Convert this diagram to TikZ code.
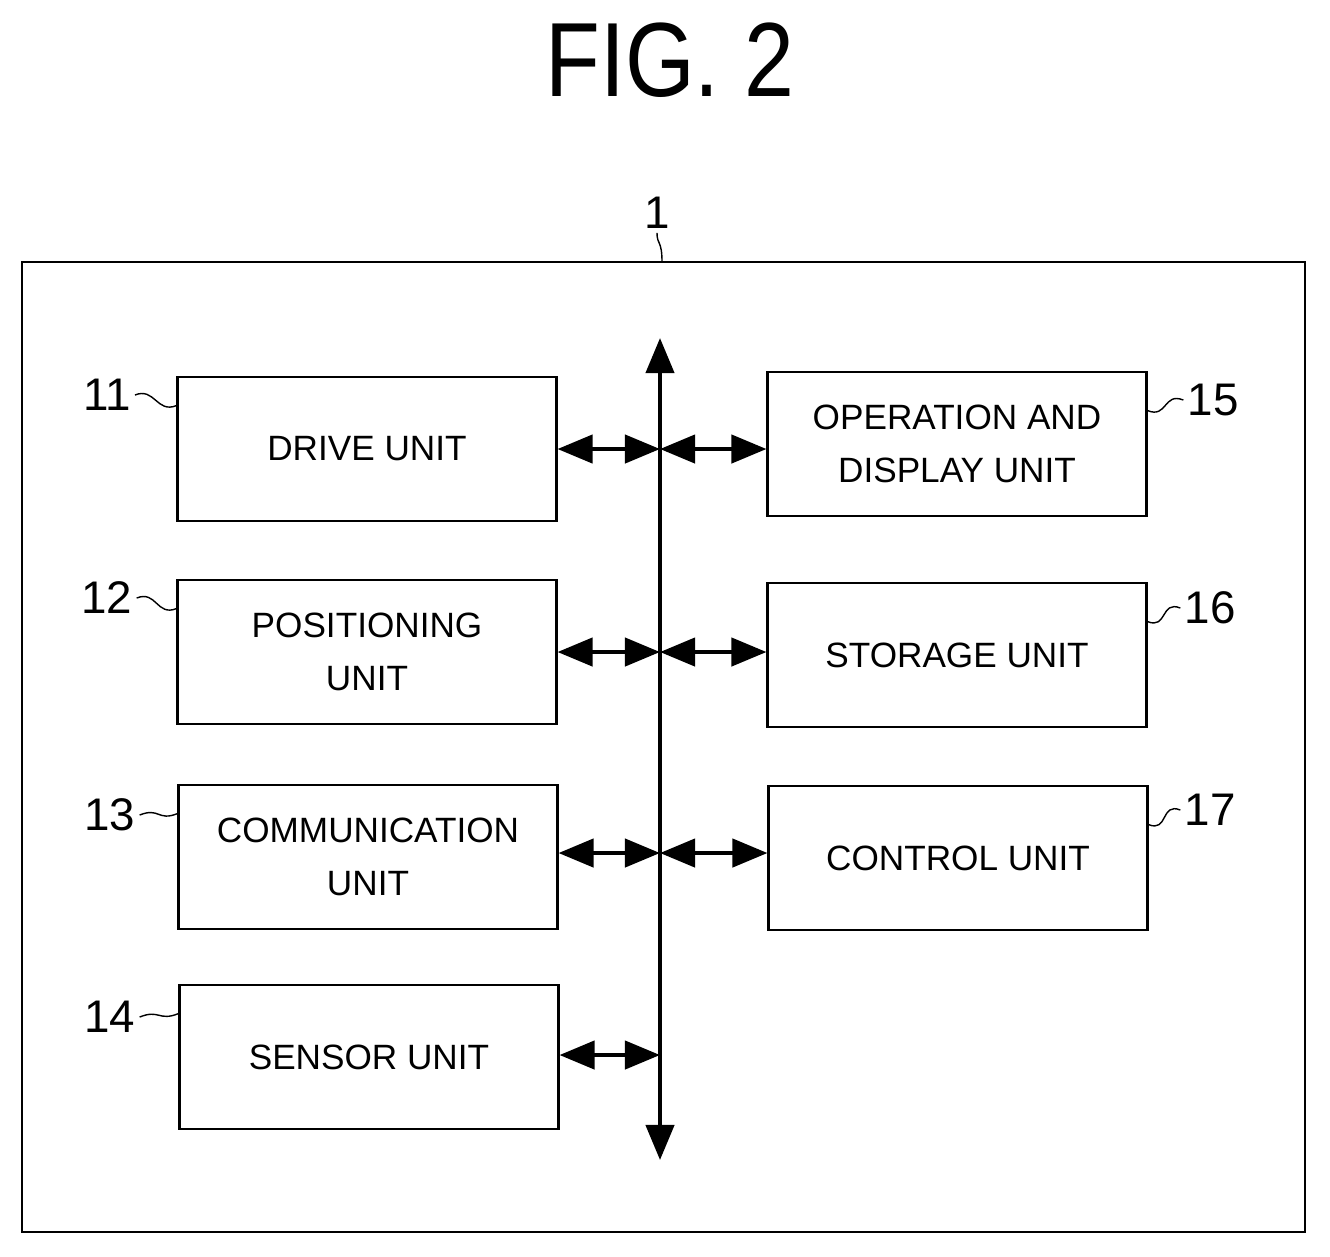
\documentclass[tikz,border=0pt]{standalone}
\usepackage{fontspec}
\setmainfont{Liberation Sans}
\usetikzlibrary{arrows.meta,positioning}
\tikzset{>={Triangle[length=10pt,width=8pt]}}
\tikzset{unit/.style={draw,thick,minimum width=3.78cm,minimum height=1.44cm,align=center,font=\fontsize{10}{12}\selectfont,inner sep=0pt},
  refno/.style={font=\fontsize{13}{15}\selectfont,inner sep=1pt}}

\begin{document}
\begin{tikzpicture}[x=0.01cm,y=-0.01cm]
\useasboundingbox (0,0) rectangle (1330,1256);
\node[font=\fontsize{30}{34}\selectfont,xscale=0.85] (title) at (670,60) {FIG. 2};
\draw[thick] (22,262) rectangle (1305,1232);
\node[refno] (r1) at (657,213) {1};
\draw (r1.south) .. controls (657,245) and (662,240) .. (662,262);
% bus
\coordinate (top) at (660,338);
\coordinate (bot) at (660,1160);
\draw[<->,very thick] (top) -- (bot);
% units
\node[unit] (drive) at (367,449) {DRIVE UNIT};
\node[unit] (pos) at (367,652) {POSITIONING\\[3pt]UNIT};
\node[unit] (comm) at (368,857) {COMMUNICATION\\[3pt]UNIT};
\node[unit] (sens) at (369,1057) {SENSOR UNIT};
\node[unit] (opd) at (957,444) {OPERATION AND\\[3pt]DISPLAY UNIT};
\node[unit] (stor) at (957,655) {STORAGE UNIT};
\node[unit] (ctrl) at (958,858) {CONTROL UNIT};
% links
\coordinate (b1) at (660,449);
\coordinate (b2) at (660,652);
\coordinate (b3) at (660,853);
\coordinate (b4) at (660,1055);
\draw[<->,very thick] (drive.east |- b1) -- (b1);
\draw[<->,very thick] (b1) -- (opd.west |- b1);
\draw[<->,very thick] (pos.east |- b2) -- (b2);
\draw[<->,very thick] (b2) -- (stor.west |- b2);
\draw[<->,very thick] (comm.east |- b3) -- (b3);
\draw[<->,very thick] (b3) -- (ctrl.west |- b3);
\draw[<->,very thick] (sens.east |- b4) -- (b4);
% reference numbers
\node[refno] (n11) at (107,395) {11};
\node[refno] (n12) at (107,598) {12};
\node[refno] (n13) at (110,815) {13};
\node[refno] (n14) at (110,1017) {14};
\node[refno] (n15) at (1213,400) {15};
\node[refno] (n16) at (1210,608) {16};
\node[refno] (n17) at (1210,810) {17};
\foreach \n/\b in {11/drive,12/pos,13/comm,14/sens}
  \draw (n\n.east) .. controls +(20,-8) and +(-20,8) .. ([yshift=-0.3cm]\b.north west);
\foreach \n/\b in {15/opd,16/stor,17/ctrl}
  \draw (n\n.west) .. controls +(-20,-8) and +(20,8) .. ([yshift=-0.4cm]\b.north east);
\end{tikzpicture}
\end{document}
